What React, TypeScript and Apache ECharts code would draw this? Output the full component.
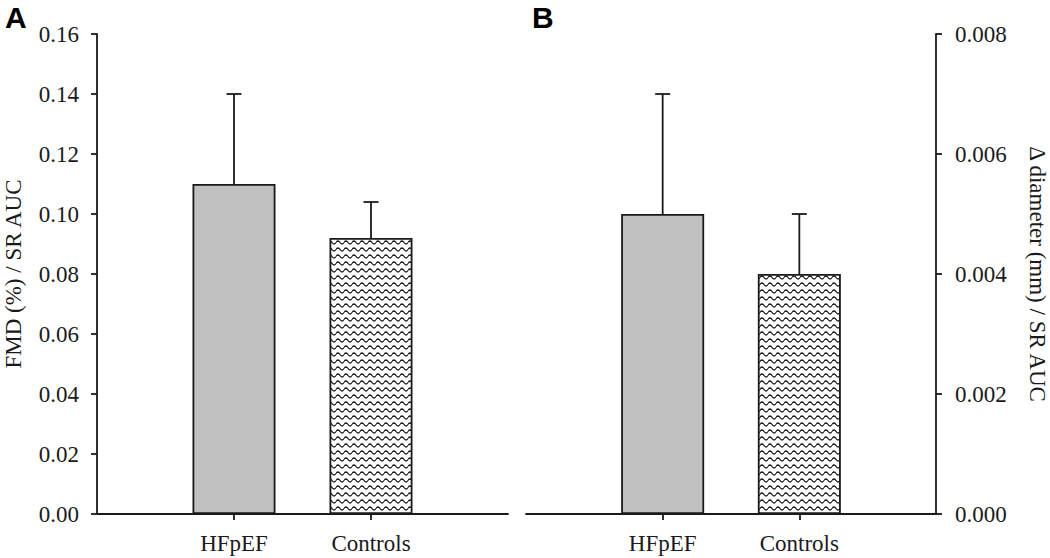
import React, { useEffect, useRef } from "react";
import * as echarts from "echarts";

const categories = ["HFpEF", "Controls"];
const fmdMean = [0.11, 0.092];
const fmdErr = [0.03, 0.012];
const diamMean = [0.005, 0.004];
const diamErr = [0.002, 0.001];
const fmdTicks = { min: 0, max: 0.16, interval: 0.02 };
const diamTicks = { min: 0, max: 0.008, interval: 0.002 };

const SERIF = "'Liberation Serif', 'Times New Roman', serif";
const INK = "#1a1a1a";
const FS = 23;
const LW = 1.8;

const waveSvg =
  "<svg xmlns='http://www.w3.org/2000/svg' width='8' height='7'><rect width='8' height='7' fill='#ffffff'/><path d='M0 4.5 Q2 1.5 4 4.5 T8 4.5' fill='none' stroke='#111' stroke-width='1.3'/></svg>";
const waveUrl = "data:image/svg+xml;charset=utf-8," + encodeURIComponent(waveSvg);

export default function App() {
  const ref = useRef<HTMLDivElement>(null);
  useEffect(() => {
    if (!ref.current) return;
    const chart = echarts.init(ref.current, null, { renderer: "svg" });
    const xCats = ["", ...categories, ""];
    const fills: any[] = [
      "#c0c0c0",
      { image: waveUrl, repeat: "repeat", imageWidth: 8, imageHeight: 7 },
    ];
    const barData = (means: number[]) => [
      "-",
      ...means.map((v, i) => ({
        value: v,
        itemStyle: { color: fills[i], borderColor: "#1a1a1a", borderWidth: LW },
      })),
      "-",
    ];
    const errData = (means: number[], errs: number[]) =>
      means.map((v, i) => [i + 1, v, errs[i]]);
    const renderErr = (params: any, api: any) => {
      const x = api.value(0);
      const v = api.value(1);
      const e = api.value(2);
      const b = api.coord([x, v]);
      const t = api.coord([x, v + e]);
      const st = { stroke: "#1a1a1a", lineWidth: LW };
      return {
        type: "group",
        children: [
          { type: "line", shape: { x1: b[0], y1: b[1], x2: t[0], y2: t[1] }, style: st },
          { type: "line", shape: { x1: t[0] - 7.5, y1: t[1], x2: t[0] + 7.5, y2: t[1] }, style: st },
        ],
      };
    };
    const xAxisBase = (gridIndex: number) => ({
      type: "category",
      gridIndex,
      data: xCats,
      boundaryGap: false,
      axisLine: { lineStyle: { color: INK, width: LW } },
      axisTick: {
        interval: (i: number) => i === 1 || i === 2,
        length: 6,
        lineStyle: { color: INK, width: LW },
      },
      axisLabel: {
        interval: 0,
        margin: 18,
        fontSize: FS,
        fontFamily: SERIF,
        color: INK,
      },
      splitLine: { show: false },
    });
    const option: any = {
      animation: false,
      backgroundColor: "#ffffff",
      grid: [
        { left: 97, top: 34, width: 411, height: 480 },
        { left: 526, top: 34, width: 411, height: 480 },
      ],
      graphic: [
        { type: "text", left: 5, top: 2, style: { text: "A", font: "bold 30px 'Liberation Sans', Arial, sans-serif", fill: "#000" } },
        { type: "text", left: 532, top: 2, style: { text: "B", font: "bold 30px 'Liberation Sans', Arial, sans-serif", fill: "#000" } },
      ],
      xAxis: [xAxisBase(0), xAxisBase(1)],
      yAxis: [
        {
          type: "value",
          gridIndex: 0,
          ...fmdTicks,
          position: "left",
          name: "FMD (%) / SR AUC",
          nameLocation: "middle",
          nameGap: 72,
          nameTextStyle: { fontSize: FS, fontFamily: SERIF, color: INK },
          axisLine: { show: true, lineStyle: { color: INK, width: LW } },
          axisTick: { show: true, length: 6, lineStyle: { color: INK, width: LW } },
          axisLabel: { margin: 18, fontSize: FS, fontFamily: SERIF, color: INK, formatter: (v: number) => v.toFixed(2) },
          splitLine: { show: false },
        },
        {
          type: "value",
          gridIndex: 1,
          ...diamTicks,
          position: "right",
          name: "\u0394 diameter (mm) / SR AUC",
          nameLocation: "middle",
          nameRotate: -90,
          nameGap: 90,
          nameTextStyle: { fontSize: FS, fontFamily: SERIF, color: INK },
          axisLine: { show: true, lineStyle: { color: INK, width: LW } },
          axisTick: { show: true, length: 6, lineStyle: { color: INK, width: LW } },
          axisLabel: { margin: 19, fontSize: FS, fontFamily: SERIF, color: INK, formatter: (v: number) => v.toFixed(3) },
          splitLine: { show: false },
        },
      ],
      series: [
        { type: "bar", xAxisIndex: 0, yAxisIndex: 0, barWidth: 83, data: barData(fmdMean) },
        { type: "bar", xAxisIndex: 1, yAxisIndex: 1, barWidth: 83, data: barData(diamMean) },
        { type: "custom", xAxisIndex: 0, yAxisIndex: 0, renderItem: renderErr, data: errData(fmdMean, fmdErr), z: 3 },
        { type: "custom", xAxisIndex: 1, yAxisIndex: 1, renderItem: renderErr, data: errData(diamMean, diamErr), z: 3 },
      ],
    };
    chart.setOption(option);
    return () => chart.dispose();
  }, []);
  return (
    <div
      ref={ref}
      style={{ position: "absolute", left: 0, top: 0, width: 1050, height: 558, background: "#fff" }}
    />
  );
}
